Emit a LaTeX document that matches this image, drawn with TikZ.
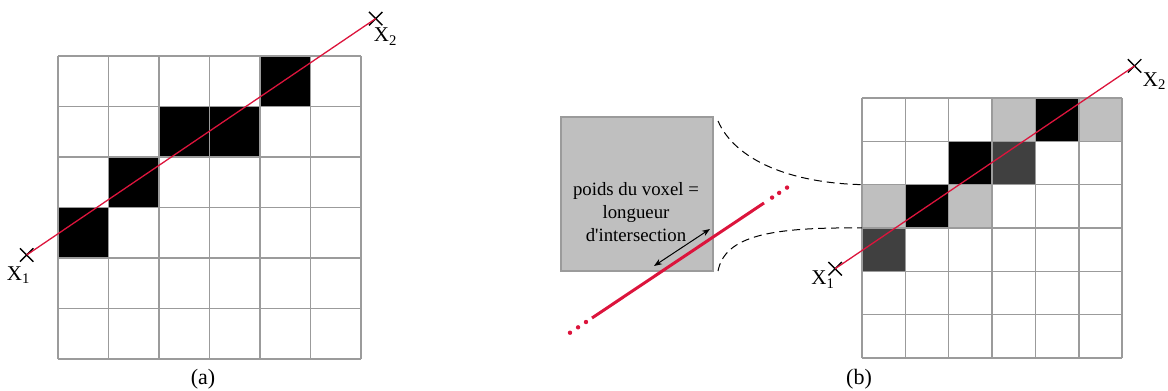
\documentclass[tikz,border=0pt]{standalone}
\usepackage{fontspec}
\setmainfont{Liberation Serif}
\usetikzlibrary{arrows.meta,shapes.misc,calc}
\definecolor{crouge}{RGB}{220,20,60}
\definecolor{cgrille}{RGB}{155,155,155}
\definecolor{cclair}{RGB}{191,191,191}
\definecolor{cfonce}{RGB}{64,64,64}

\begin{document}
\begin{tikzpicture}[x=0.5pt, y=-0.5pt, >={Stealth[length=4pt,width=3pt]},
  font=\fontsize{10.5}{12.5}\selectfont,
  croix/.style={cross out, draw, line width=0.7pt, minimum size=6pt, inner sep=0pt},
  grille/.style={cgrille, line width=0.8pt, step=1},
  rayon/.style={crouge, line width=0.65pt},
  pointille/.style={dash pattern=on 4pt off 2.5pt, line width=0.5pt}]
\useasboundingbox (0,0) rectangle (1168,391);

% grille (a)
\begin{scope}[shift={(58,359)}, x=25.25pt, y=25.25pt]
\foreach \c/\r in {0/2,1/3,2/4,3/4,4/5} \fill (\c,\r) rectangle +(1,1);
\draw[grille] (0,0) grid (6,6);
\node[croix] (a1) at (-0.62,2.06) {};
\node[croix] (a2) at (6.29,6.74) {};
\draw[rayon] (a1.center) -- (a2.center);
\node (la1) at ([xshift=-4pt,yshift=-10pt]a1.center) {X\textsubscript{1}};
\node (la2) at ([xshift=5pt,yshift=-9pt]a2.center) {X\textsubscript{2}};
\end{scope}
\node[font=\fontsize{11}{13}\selectfont] (lba) at (203,379) {(a)};

% zoom sur un voxel
\node[draw=cgrille, fill=cclair, line width=1pt, minimum width=76pt, minimum height=77pt] (vox) at (637,194) {};
\node[align=center, font=\fontsize{9.4}{11.3}\selectfont] (voxtxt) at (636,212) {poids du voxel =\\longueur\\d\textquotesingle intersection};
\coordinate (r1) at (592,318);
\coordinate (r2) at (764,203);
\draw[crouge, line width=1.5pt] (r1) -- (r2);
\foreach \t in {-0.035,-0.081,-0.128,1.047,1.088,1.134}
  \fill[crouge] ($(r1)!\t!(r2)$) circle (1.1pt);
\coordinate (f1) at (654,266);
\coordinate (f2) at (710,229);
\draw[<->, line width=0.5pt] (f1) -- (f2);

% grille (b)
\begin{scope}[shift={(862,358)}, x=21.67pt, y=21.67pt]
\foreach \c/\r in {3/5,5/5,0/3,2/3} \fill[cclair] (\c,\r) rectangle +(1,1);
\foreach \c/\r in {3/4,0/2} \fill[cfonce] (\c,\r) rectangle +(1,1);
\foreach \c/\r in {4/5,2/4,1/3} \fill (\c,\r) rectangle +(1,1);
\draw[grille] (0,0) grid (6,6);
\coordinate (b04) at (0,4);
\coordinate (b03) at (0,3);
\node[croix] (b1) at (-0.62,2.06) {};
\node[croix] (b2) at (6.29,6.74) {};
\draw[rayon] (b1.center) -- (b2.center);
\node (lb1) at ([xshift=-6pt,yshift=-5.5pt]b1.center) {X\textsubscript{1}};
\node (lb2) at ([xshift=10pt,yshift=-7.5pt]b2.center) {X\textsubscript{2}};
\end{scope}
\node[font=\fontsize{11}{13}\selectfont] (lbb) at (859,379) {(b)};

\draw[pointille] ([shift={(2pt,-2.5pt)}]vox.north east) .. controls (735,160) and (790,183) .. (b04);
\draw[pointille] ([shift={(2pt,0.5pt)}]vox.south east) .. controls (725,236) and (770,227) .. (b03);
\end{tikzpicture}
\end{document}
